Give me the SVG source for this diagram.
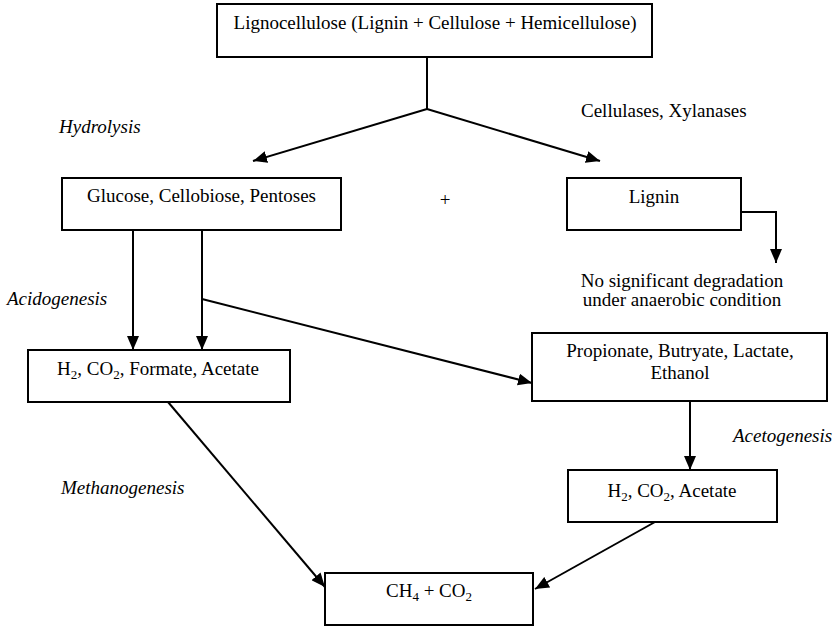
<svg xmlns="http://www.w3.org/2000/svg" width="835" height="626" viewBox="0 0 835 626">
<defs>
<marker id="ah" markerUnits="userSpaceOnUse" markerWidth="14" markerHeight="12" refX="14" refY="6" orient="auto">
<path d="M0,0 L14,6 L0,12 z" fill="#000"/>
</marker>
<style>
.box{fill:#fff;stroke:#000;stroke-width:2}
.t{font-family:"Liberation Serif","Times New Roman",serif;font-size:19px;fill:#000}
.c{text-anchor:middle}
.i{font-style:italic}
.s{font-size:13px}
.ln{fill:none;stroke:#000;stroke-width:2}
</style>
</defs>
<rect width="835" height="626" fill="#fff"/>
<g id="connectors">
<path class="ln" d="M427,57 V109"/>
<path class="ln" d="M427,109 L253,161" marker-end="url(#ah)"/>
<path class="ln" d="M427,109 L600,161" marker-end="url(#ah)"/>
<path class="ln" d="M741,212 H776 V263" marker-end="url(#ah)"/>
<path class="ln" d="M133,230 V350" marker-end="url(#ah)"/>
<path class="ln" d="M202,230 V350" marker-end="url(#ah)"/>
<path class="ln" d="M202,299 L532,383" marker-end="url(#ah)"/>
<path class="ln" d="M690,401 V470" marker-end="url(#ah)"/>
<path class="ln" d="M168,402 L325,587" marker-end="url(#ah)"/>
<path class="ln" d="M655,522 L535,589" marker-end="url(#ah)"/>
</g>
<g id="lignocellulose">
<rect class="box" x="217" y="4" width="435" height="53"/>
<text class="t c" x="435" y="29">Lignocellulose (Lignin + Cellulose + Hemicellulose)</text>
</g>
<g id="enzymes"><text class="t" x="581" y="117">Cellulases, Xylanases</text></g>
<g id="hydrolysis"><text class="t i" x="59" y="133">Hydrolysis</text></g>
<g id="glucose">
<rect class="box" x="62" y="178" width="279" height="52"/>
<text class="t c" x="201.5" y="202">Glucose, Cellobiose, Pentoses</text>
</g>
<g id="plus"><text class="t c" x="445" y="206">+</text></g>
<g id="lignin">
<rect class="box" x="567" y="178" width="174" height="52"/>
<text class="t c" x="654" y="203">Lignin</text>
</g>
<g id="no-degradation">
<text class="t c" x="682" y="287">No significant degradation</text>
<text class="t c" x="682" y="306">under anaerobic condition</text>
</g>
<g id="acidogenesis"><text class="t i" x="7" y="305">Acidogenesis</text></g>
<g id="h2-formate">
<rect class="box" x="28" y="350" width="262" height="52"/>
<text class="t c" x="158" y="375">H<tspan class="s" dy="4">2</tspan><tspan dy="-4">, CO</tspan><tspan class="s" dy="4">2</tspan><tspan dy="-4">, Formate, Acetate</tspan></text>
</g>
<g id="propionate">
<rect class="box" x="532" y="333" width="295" height="68"/>
<text class="t c" x="680" y="357">Propionate, Butryate, Lactate,</text>
<text class="t c" x="680" y="379">Ethanol</text>
</g>
<g id="acetogenesis"><text class="t i" x="733" y="442">Acetogenesis</text></g>
<g id="h2-acetate">
<rect class="box" x="568" y="470" width="209" height="52"/>
<text class="t c" x="672" y="497">H<tspan class="s" dy="4">2</tspan><tspan dy="-4">, CO</tspan><tspan class="s" dy="4">2</tspan><tspan dy="-4">, Acetate</tspan></text>
</g>
<g id="methanogenesis"><text class="t i" x="61" y="494">Methanogenesis</text></g>
<g id="ch4">
<rect class="box" x="325" y="573" width="208" height="52"/>
<text class="t c" x="429" y="597">CH<tspan class="s" dy="4">4</tspan><tspan dy="-4"> + CO</tspan><tspan class="s" dy="4">2</tspan></text>
</g>
</svg>
